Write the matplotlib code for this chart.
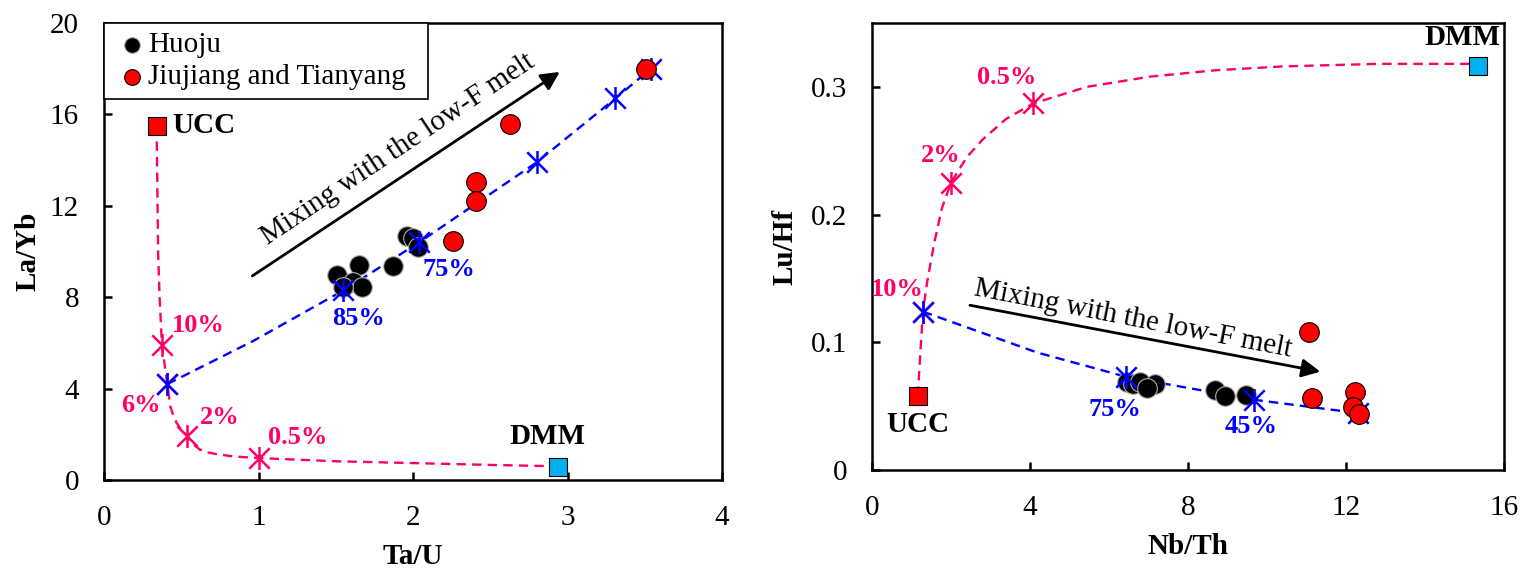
import matplotlib
matplotlib.use('Agg')
import matplotlib.pyplot as plt
from matplotlib.path import Path

plt.rcParams['font.family'] = ['Liberation Serif', 'DejaVu Serif']

# ---------------- data: left panel (Ta/U vs La/Yb) ----------------
huoju_tau = [1.96, 2.00, 2.03, 1.87, 1.65, 1.51, 1.61, 1.67, 1.55]
huoju_layb = [10.7, 10.6, 10.2, 9.37, 9.4, 8.97, 8.67, 8.45, 8.45]
jt_tau = [3.51, 2.63, 2.41, 2.41, 2.26]
jt_layb = [17.99, 15.6, 13.04, 12.2, 10.46]
ucc_tau, ucc_layb = [0.34], [15.5]
dmm_tau, dmm_layb = [2.94], [0.57]

# UCC-DMM mixing curve
mixL_x = [0.34, 0.345, 0.35, 0.36, 0.375, 0.41, 0.43, 0.45, 0.47, 0.50, 0.54, 0.58, 0.62, 0.67, 0.73,
          0.84, 1.0, 1.5, 2.0, 2.5, 2.94]
mixL_y = [15.5, 13.0, 10.0, 8.0, 5.9, 4.2, 3.2, 2.8, 2.5, 2.2, 1.93, 1.55, 1.33, 1.21, 1.13,
          1.03, 0.96, 0.82, 0.74, 0.66, 0.6]
mixL_mark_x = [0.375, 0.41, 0.54, 1.0]
mixL_mark_y = [5.9, 4.2, 1.93, 0.96]
mixL_labels = ['10%', '6%', '2%', '0.5%']

# mixing with the low-F melt
meltL_x = [0.41, 0.97, 1.55, 2.04, 2.80, 3.31, 3.54]
meltL_y = [4.2, 6.1, 8.3, 10.4, 13.9, 16.7, 18.0]
meltL_mark_x = [0.41, 1.55, 2.04, 2.80, 3.31, 3.54]
meltL_mark_y = [4.2, 8.3, 10.4, 13.9, 16.7, 18.0]
meltL_labels = ['85%', '75%']

# ---------------- data: right panel (Nb/Th vs Lu/Hf) ----------------
huoju_nbth = [6.45, 6.60, 6.78, 7.16, 6.96, 8.68, 8.94, 9.47]
huoju_luhf = [0.069, 0.067, 0.069, 0.067, 0.064, 0.063, 0.058, 0.059]
jt_nbth = [11.06, 11.14, 12.23, 12.18, 12.33]
jt_luhf = [0.108, 0.056, 0.061, 0.049, 0.044]
ucc_nbth, ucc_luhf = [1.16], [0.058]
dmm_nbth, dmm_luhf = [15.34], [0.316]

mixR_x = [1.16, 1.22, 1.29, 1.39, 1.57, 1.77, 2.0, 2.4, 2.81, 3.4, 4.08, 5.44, 7.04, 8.7, 10.4, 12.8, 15.34]
mixR_y = [0.058, 0.09, 0.124, 0.146, 0.177, 0.205, 0.225, 0.245, 0.259, 0.275, 0.287, 0.300, 0.308,
          0.313, 0.316, 0.318, 0.318]
mixR_mark_x = [1.29, 2.0, 4.08]
mixR_mark_y = [0.124, 0.225, 0.287]
mixR_labels = ['10%', '2%', '0.5%']

meltR_x = [1.29, 4.18, 6.43, 9.67, 12.3]
meltR_y = [0.124, 0.092, 0.073, 0.055, 0.0446]
meltR_mark_x = [1.29, 6.43, 9.67, 12.3]
meltR_mark_y = [0.124, 0.073, 0.055, 0.0446]
meltR_labels = ['75%', '45%']

xticksL = [0, 1, 2, 3, 4]
yticksL = [0, 4, 8, 12, 16, 20]
xticksR = [0, 4, 8, 12, 16]
yticksR = [0, 0.1, 0.2, 0.3]
yticklabelsR = ['0', '0.1', '0.2', '0.3']

PINK = '#FF0066'
BLUE = '#0000FF'
CYAN = '#00B0F0'

ASTERISK = Path([(-1, -1), (1, 1), (-1, 1), (1, -1), (0, -1.12), (0, 1.12)],
                [Path.MOVETO, Path.LINETO] * 3)
DASH = (0, (4, 2.6))
FS = 21      # tick / legend / axis label font size
FP = 19      # percentage labels
FE = 21      # end-member labels
MS = 16.5    # asterisk size

fig = plt.figure(figsize=(15.31, 5.79), dpi=100)
axL = fig.add_axes([104 / 1531, 99 / 579, 618 / 1531, 457 / 579])
axR = fig.add_axes([872 / 1531, 109 / 579, 632 / 1531, 447 / 579])


def style(ax):
    for s in ax.spines.values():
        s.set_linewidth(1.8)
        s.set_color('black')
    ax.tick_params(direction='in', length=6, width=1.8, labelsize=FS, pad=18)


# ---------------- left panel ----------------
axL.plot(mixL_x, mixL_y, color=PINK, ls=DASH, lw=1.7, zorder=2)
axL.plot(mixL_mark_x, mixL_mark_y, ls='none', marker=ASTERISK, ms=MS, mec=PINK, mew=1.8, zorder=3)
axL.plot(meltL_x, meltL_y, color=BLUE, ls=DASH, lw=1.7, zorder=2)
hL = axL.scatter(huoju_tau, huoju_layb, s=200, c='black', edgecolors='#b0b0b0', linewidths=0.8,
                 zorder=4, label='Huoju')
axL.plot(meltL_mark_x, meltL_mark_y, ls='none', marker=ASTERISK, ms=MS, mec=BLUE, mew=1.8, zorder=5)
jL = axL.scatter(jt_tau, jt_layb, s=200, c='red', edgecolors='black', linewidths=0.8,
                 zorder=6, label='Jiujiang and Tianyang')
axL.scatter(ucc_tau, ucc_layb, marker='s', s=180, c='red', edgecolors='black', linewidths=0.8, zorder=6)
axL.scatter(dmm_tau, dmm_layb, marker='s', s=180, c=CYAN, edgecolors='black', linewidths=0.8, zorder=6)

axL.text(0.44, 15.5, 'UCC', fontsize=FE, fontweight='bold', va='center', ha='left')
axL.text(2.87, 1.3, 'DMM', fontsize=FE, fontweight='bold', va='bottom', ha='center')
axL.text(0.44, 6.75, mixL_labels[0], color=PINK, fontsize=FP, fontweight='bold', ha='left', va='center')
axL.text(0.37, 3.25, mixL_labels[1], color=PINK, fontsize=FP, fontweight='bold', ha='right', va='center')
axL.text(0.62, 2.75, mixL_labels[2], color=PINK, fontsize=FP, fontweight='bold', ha='left', va='center')
axL.text(1.06, 1.85, mixL_labels[3], color=PINK, fontsize=FP, fontweight='bold', ha='left', va='center')
axL.text(1.65, 7.05, meltL_labels[0], color=BLUE, fontsize=FP, fontweight='bold', ha='center', va='center')
axL.text(2.23, 9.2, meltL_labels[1], color=BLUE, fontsize=FP, fontweight='bold', ha='center', va='center')

axL.annotate('', xy=(2.95, 17.86), xytext=(0.96, 8.93),
             arrowprops=dict(arrowstyle='-|>', color='black', lw=2, mutation_scale=28, shrinkA=0, shrinkB=0),
             zorder=3)
axL.text(1.90, 14.45, 'Mixing with the low-F melt', fontsize=FS, rotation=33.8,
         rotation_mode='anchor', ha='center', va='center')

axL.set_xlim(0, 4)
axL.set_ylim(0, 20)
axL.set_xticks(xticksL)
axL.set_yticks(yticksL)
axL.set_xlabel('Ta/U', fontsize=FS, fontweight='bold', labelpad=9)
axL.set_ylabel('La/Yb', fontsize=FS, fontweight='bold', labelpad=6)
style(axL)

leg = axL.legend(handles=[hL, jL], loc='upper left', bbox_to_anchor=(0, 0.5, 324 / 618, 0.5),
                 mode='expand', borderaxespad=0,
                 fontsize=FS, frameon=True, fancybox=False, edgecolor='black', framealpha=1,
                 handletextpad=-0.1, handlelength=1.3, labelspacing=0.2, borderpad=0.3,
                 markerscale=0.8)
leg.get_frame().set_linewidth(1.2)

# ---------------- right panel ----------------
axR.plot(mixR_x, mixR_y, color=PINK, ls=DASH, lw=1.7, zorder=2)
axR.plot(mixR_mark_x, mixR_mark_y, ls='none', marker=ASTERISK, ms=MS, mec=PINK, mew=1.8, zorder=3)
axR.plot(meltR_x, meltR_y, color=BLUE, ls=DASH, lw=1.7, zorder=2)
axR.scatter(huoju_nbth, huoju_luhf, s=200, c='black', edgecolors='#b0b0b0', linewidths=0.8, zorder=4)
axR.plot(meltR_mark_x, meltR_mark_y, ls='none', marker=ASTERISK, ms=MS, mec=BLUE, mew=1.8, zorder=5)
axR.scatter(jt_nbth, jt_luhf, s=200, c='red', edgecolors='black', linewidths=0.8, zorder=6)
axR.scatter(ucc_nbth, ucc_luhf, marker='s', s=180, c='red', edgecolors='black', linewidths=0.8, zorder=6)
axR.scatter(dmm_nbth, dmm_luhf, marker='s', s=180, c=CYAN, edgecolors='black', linewidths=0.8, zorder=6)

axR.text(1.16, 0.036, 'UCC', fontsize=FE, fontweight='bold', va='center', ha='center')
axR.text(14.95, 0.339, 'DMM', fontsize=FE, fontweight='bold', va='center', ha='center')
axR.text(0.65, 0.141, mixR_labels[0], color=PINK, fontsize=FP, fontweight='bold', ha='center', va='center')
axR.text(1.75, 0.246, mixR_labels[1], color=PINK, fontsize=FP, fontweight='bold', ha='center', va='center')
axR.text(3.4, 0.307, mixR_labels[2], color=PINK, fontsize=FP, fontweight='bold', ha='center', va='center')
axR.text(6.15, 0.047, meltR_labels[0], color=BLUE, fontsize=FP, fontweight='bold', ha='center', va='center')
axR.text(9.6, 0.034, meltR_labels[1], color=BLUE, fontsize=FP, fontweight='bold', ha='center', va='center')

axR.annotate('', xy=(11.35, 0.077), xytext=(2.48, 0.129),
             arrowprops=dict(arrowstyle='-|>', color='black', lw=2, mutation_scale=28, shrinkA=0, shrinkB=0),
             zorder=3)
axR.text(6.6, 0.118, 'Mixing with the low-F melt', fontsize=FS, rotation=-11,
         rotation_mode='anchor', ha='center', va='center')

axR.set_xlim(0, 16)
axR.set_ylim(0, 0.35)
axR.set_xticks(xticksR)
axR.set_yticks(yticksR)
axR.set_yticklabels(yticklabelsR)
axR.set_xlabel('Nb/Th', fontsize=FS, fontweight='bold', labelpad=9)
axR.set_ylabel('Lu/Hf', fontsize=FS, fontweight='bold', labelpad=9)
style(axR)

fig.savefig('out.png', dpi=100)
